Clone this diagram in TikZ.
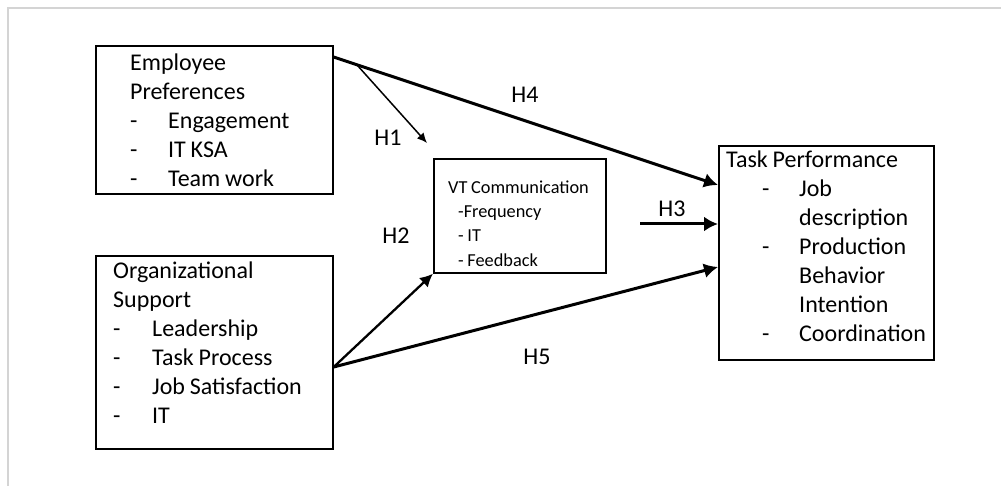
\documentclass[tikz,border=0pt]{standalone}
\usepackage{fontspec}
\setmainfont{Carlito}
\usetikzlibrary{arrows.meta,calc}
\setlength{\parindent}{0pt}
\begin{document}
\begin{tikzpicture}[x=1pt,y=-1pt,
  box/.style={draw=black, line width=1.7pt, inner sep=0pt, anchor=north west},
  txt/.style={inner sep=0pt, anchor=north west, text width=#1, align=left,
    font=\fontsize{24}{29}\selectfont,
    execute at begin node={\spaceskip=0.2em\relax}},
  smalltxt/.style={inner sep=0pt, anchor=north west, text width=#1, align=left,
    font=\fontsize{18.3}{24.3}\selectfont,
    execute at begin node={\spaceskip=0.2em\relax}},
  hlabel/.style={inner sep=0pt, font=\fontsize{24}{29}\selectfont},
  bigarrow/.style={line width=3pt, -{Latex[length=14pt,width=15pt]}},
  midarrow/.style={line width=2.3pt, -{Latex[length=13pt,width=13pt]}},
  thinarrow/.style={line width=1.5pt, -{Latex[length=10pt,width=9pt]}},
  frameline/.style={draw=black!17, line width=2.5pt}
]
\useasboundingbox (0,0) rectangle (1001,486);
\draw[frameline] (8,486) -- (8,8) -- (1001,8);

% boxes
\node[box, minimum width=237pt, minimum height=148pt] (emp) at (95,45) {};
\node[box, minimum width=237pt, minimum height=193pt] (org) at (95,255) {};
\node[box, minimum width=172pt, minimum height=114pt] (vt) at (433,158) {};
\node[box, minimum width=215pt, minimum height=214pt] (task) at (718,145) {};

% texts
\node[txt=200pt] (empT) at (130,50) {\rule{0pt}{20pt}Employee\\
Preferences\\
\makebox[38pt][l]{-}Engagement\\
\makebox[38pt][l]{-}IT KSA\\
\makebox[38pt][l]{-}Team work};

\node[txt=215pt] (orgT) at (113,258) {\rule{0pt}{20pt}Organizational\\
Support\\
\makebox[39pt][l]{-}Leadership\\
\makebox[39pt][l]{-}Task Process\\
\makebox[39pt][l]{-}Job Satisfaction\\
\makebox[39pt][l]{-}IT};

\node[smalltxt=155pt] (vtT) at (448,177) {\rule{0pt}{16pt}VT Communication\\
\hspace*{10pt}-Frequency\\
\hspace*{10pt}- IT\\
\hspace*{10pt}- Feedback};

\node[txt=215pt] (taskT) at (726,147) {\rule{0pt}{20pt}Task Performance\\
\hspace*{36pt}\makebox[37pt][l]{-}Job\\
\hspace*{73pt}description\\
\hspace*{36pt}\makebox[37pt][l]{-}Production\\
\hspace*{73pt}Behavior\\
\hspace*{73pt}Intention\\
\hspace*{36pt}\makebox[37pt][l]{-}Coordination};

% connectors
\coordinate (h4s) at ($(emp.north east)+(0,12)$);
\coordinate (h4e) at ($(task.north west)+(0,40)$);
\draw[bigarrow] (h4s) -- (h4e);
\coordinate (h1s) at ($(h4s)!0.06!(h4e)$);
\coordinate (h1e) at (427,143);
\draw[thinarrow] (h1s) -- (h1e);
\coordinate (os) at ($(org.north east)+(0,112)$);
\draw[midarrow] (os) -- (vt.south west);
\draw[bigarrow] (os) -- ($(task.north west)+(0,122)$);
\coordinate (h3s) at (640,224);
\draw[bigarrow] (h3s) -- ($(task.north west)+(0,79)$);

% labels
\node[hlabel] (lH1) at (388,138) {H1};
\node[hlabel] (lH2) at (396,236) {H2};
\node[hlabel] (lH3) at (672,209) {H3};
\node[hlabel] (lH4) at (525,95) {H4};
\node[hlabel] (lH5) at (537,357) {H5};
\end{tikzpicture}
\end{document}
